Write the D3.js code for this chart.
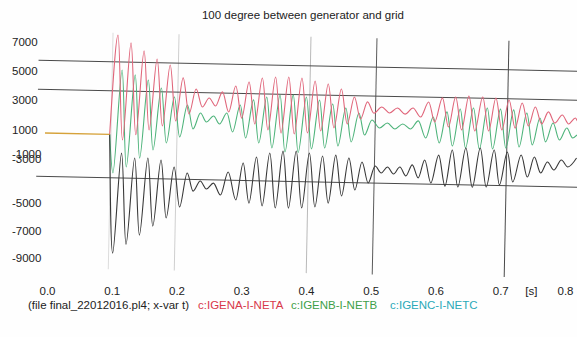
<!DOCTYPE html>
<html><head><meta charset="utf-8">
<script src="https://cdn.jsdelivr.net/npm/d3@7"></script>
<style>
html,body{margin:0;padding:0;background:#fff;}
svg{display:block;font-family:"Liberation Sans",Arial,sans-serif;}
</style></head><body>
<svg id="chart" width="577" height="337"></svg>
<script>
// ---------------- DATA ----------------
const chartTitle = "100 degree between generator and grid";
const fileLabel = "(file final_22012016.pl4; x-var t)";
const seriesNames = ["c:IGENA-I-NETA", "c:IGENB-I-NETB", "c:IGENC-I-NETC"];
const xTicks = [0.0, 0.1, 0.2, 0.3, 0.4, 0.5, 0.6, 0.7, 0.8];
const xUnit = "[s]";
const yTicks = [7000, 5000, 3000, 1000, -1000, -3000, -5000, -7000, -9000];
const hGridValues = [5000, 3000, -3000];
const vGridTimes = [0.1, 0.2, 0.4, 0.5, 0.7];

// pre-switching (all three currents at zero, overlapping)
const preFault = [[0, 0], [0.098, 0]];

// phase A (extrema) [time s, value]
const seriesA = [
  [0.098, 0],
  [0.1076, 6860], [0.1176, -370], [0.1276, 6330], [0.1376, 0], [0.1476, 5800], [0.1576, 350],
  [0.1676, 5260], [0.1776, 650], [0.1876, 4860], [0.1976, 1010], [0.2076, 3990], [0.2176, 1510],
  [0.2276, 3240], [0.2376, 2010], [0.2476, 2640], [0.2576, 2100], [0.2676, 3080], [0.2776, 1700],
  [0.2876, 3500], [0.2976, 1300], [0.3076, 3800], [0.3176, 910], [0.3276, 4090], [0.3376, 520],
  [0.3476, 4180], [0.3576, 320], [0.3676, 4200], [0.3776, 280], [0.3876, 4150], [0.3976, 360],
  [0.4076, 3960], [0.4176, 520], [0.4276, 3770], [0.4376, 750], [0.4476, 3440], [0.4576, 1040],
  [0.4676, 2910], [0.4776, 1400], [0.4876, 2590], [0.4976, 1820],
  [0.5094, 2260], [0.5212, 1860], [0.5331, 2210], [0.5449, 1800], [0.5567, 2230], [0.5685, 1620],
  [0.5803, 2670], [0.590, 1300], [0.601, 2970], [0.611, 970], [0.621, 3050], [0.631, 790],
  [0.641, 3140], [0.651, 730], [0.662, 3090], [0.672, 750], [0.682, 3040], [0.692, 840],
  [0.702, 2920], [0.712, 990], [0.722, 2730], [0.732, 1150], [0.742, 2470], [0.752, 1310],
  [0.762, 2150], [0.772, 1390], [0.783, 1960], [0.793, 1350], [0.803, 1770], [0.806, 1570]
];

// phase B
const seriesB = [
  [0.098, 0],
  [0.1041, -2660], [0.1149, 4450], [0.1241, -2230], [0.1349, 4130], [0.1441, -1600], [0.1549, 3800],
  [0.1641, -1020], [0.1749, 3260], [0.1841, -520], [0.1949, 2660], [0.2041, -90], [0.2149, 2130],
  [0.2241, 480], [0.2349, 1590], [0.2441, 980], [0.2549, 1410], [0.2641, 860], [0.2749, 1630],
  [0.2841, 330], [0.2949, 2200], [0.3041, -70], [0.3149, 2570], [0.3241, -390], [0.3349, 2790],
  [0.3441, -720], [0.3549, 2950], [0.3641, -980], [0.3749, 2970], [0.3841, -990], [0.3949, 2840],
  [0.4041, -730], [0.4149, 2660], [0.4241, -650], [0.4349, 2400], [0.4441, -490], [0.4549, 2140],
  [0.4641, -190], [0.4749, 1810], [0.4841, 300], [0.4949, 1350],
  [0.5066, 810], [0.5183, 1160], [0.530, 760], [0.5417, 1120], [0.5534, 780], [0.5651, 1350],
  [0.5768, 180], [0.5876, 1640], [0.5975, -140], [0.6083, 2010], [0.6175, -330], [0.6283, 2230],
  [0.6375, -450], [0.6483, 2320], [0.6585, -500], [0.6693, 2340], [0.6785, -480], [0.6893, 2280],
  [0.6985, -400], [0.7093, 2240], [0.7185, -310], [0.7293, 2050], [0.7385, -150], [0.7493, 1720],
  [0.7585, 80], [0.7693, 1390], [0.7795, 230], [0.7903, 1070], [0.7995, 390], [0.806, 600]
];

// phase C
const seriesC = [
  [0.098, 0],
  [0.1061, -8190], [0.1166, -1280], [0.1261, -7570], [0.1366, -1600], [0.1461, -6910], [0.1566, -1580],
  [0.1661, -6270], [0.1766, -1700], [0.1861, -5690], [0.1966, -2170], [0.2061, -4920], [0.2166, -2560],
  [0.2261, -3800], [0.2366, -3100], [0.2461, -3640], [0.2566, -3220], [0.2676, -4030], [0.2786, -2440],
  [0.2911, -4350], [0.3011, -1790], [0.3111, -4550], [0.3211, -1360], [0.3311, -4730], [0.3411, -1070],
  [0.3511, -4850], [0.3611, -920], [0.3711, -4840], [0.3811, -890], [0.3911, -4810], [0.4011, -1010],
  [0.4111, -4730], [0.4211, -1200], [0.4311, -4440], [0.4411, -1120], [0.4511, -3930], [0.4611, -1300],
  [0.4711, -3500], [0.4811, -1560], [0.4911, -3000], [0.5011, -1820],
  [0.5105, -2290], [0.5198, -1870], [0.5292, -2340], [0.5386, -1850], [0.5479, -2460], [0.5573, -1690],
  [0.5667, -2580], [0.576, -1340], [0.586, -2910], [0.597, -980], [0.6075, -3110], [0.6175, -610],
  [0.627, -3150], [0.638, -450], [0.649, -3150], [0.6598, -430], [0.670, -3110], [0.681, -550],
  [0.690, -2950], [0.701, -670], [0.710, -2730], [0.722, -860], [0.732, -2370], [0.742, -980],
  [0.752, -2070], [0.762, -1300], [0.772, -1850], [0.783, -1150], [0.793, -1620], [0.806, -990]
];

// ---------------- LAYOUT ----------------
const svg = d3.select("#chart");
svg.append("rect").attr("width", 577).attr("height", 337).attr("fill", "#fefefe");

const x = d3.scaleLinear().domain([0, 0.8]).range([45, 573]);
const zeroY = 133, pxPerUnit = 0.0145;
const y = d3.scaleLinear().domain([-9300, 7000])
  .range([zeroY + 9300 * pxPerUnit, zeroY - 7000 * pxPerUnit]);

// the printed axis labels sit where the plotting program put them
const yLabelPos = [42, 71, 100, 130, 154, 159, 203, 231, 258];
const yAxisScale = d3.scaleLinear().domain(yTicks).range(yLabelPos);
const xAxisScale = d3.scaleLinear().domain([0, 0.8]).range([47, 565]);

// plot area, slightly tilted as in the photographed print
const plot = svg.append("g").attr("transform", "rotate(1.15 45 133)");

const vStyle = {0.1: "#dcdcdc", 0.2: "#cfcfcf", 0.4: "#b9b9b9", 0.5: "#5a5a5a", 0.7: "#4a4a4a"};
plot.selectAll("line.vg").data(vGridTimes).join("line")
  .attr("class", "vg")
  .attr("x1", d => x(d)).attr("x2", d => x(d))
  .attr("y1", y(7000)).attr("y2", y(-9300))
  .attr("stroke", d => vStyle[d]).attr("stroke-width", 1);

plot.selectAll("line.hg").data(hGridValues).join("line")
  .attr("class", "hg")
  .attr("x1", x(-0.012)).attr("x2", x(0.82))
  .attr("y1", d => y(d)).attr("y2", d => y(d))
  .attr("stroke", "#4a4a4a").attr("stroke-width", 1);

const line = d3.line().x(d => x(d[0])).y(d => y(d[1])).curve(d3.curveMonotoneX);
const traces = [
  {data: seriesB, color: "#4db37a"},
  {data: seriesA, color: "#e0657a"},
  {data: seriesC, color: "#383838"}
];
plot.selectAll("path.tr").data(traces).join("path")
  .attr("class", "tr")
  .attr("d", d => line(d.data))
  .attr("fill", "none")
  .attr("stroke", d => d.color)
  .attr("stroke-width", 1.1)
  .attr("stroke-linejoin", "round");

plot.append("path").attr("d", d3.line().x(d => x(d[0])).y(d => y(d[1]))(preFault))
  .attr("fill", "none").attr("stroke", "#d6a23a").attr("stroke-width", 1.3);

// title
svg.append("text").attr("x", 303).attr("y", 19).attr("text-anchor", "middle")
  .attr("font-size", 11.5).attr("fill", "#222").text(chartTitle);

// y axis labels
const yAx = svg.append("g").attr("transform", "translate(12,0)")
  .call(d3.axisLeft(yAxisScale).tickValues(yTicks).tickSize(0).tickFormat(d => String(d)));
yAx.select(".domain").remove();
yAx.selectAll("text").attr("text-anchor", "start").attr("x", 0)
  .attr("font-size", 11.5).attr("fill", "#222").attr("font-family", "Liberation Sans, Arial, sans-serif");

// x axis labels
const xAx = svg.append("g").attr("transform", "translate(0,284)")
  .call(d3.axisBottom(xAxisScale).tickValues(xTicks).tickSize(0).tickFormat(d => d.toFixed(1)));
xAx.select(".domain").remove();
xAx.selectAll("text").attr("font-size", 11.5).attr("fill", "#222")
  .attr("font-family", "Liberation Sans, Arial, sans-serif");
svg.append("text").attr("x", xAxisScale(0.748)).attr("y", 295).attr("text-anchor", "middle")
  .attr("font-size", 11.5).attr("fill", "#222").text(xUnit);

// legend row
const legendColors = ["#d8384a", "#3fa048", "#2aa9b8"];
svg.append("text").attr("x", 28).attr("y", 309).attr("font-size", 11.5)
  .attr("fill", "#222").text(fileLabel);
const legX = [198, 291, 390];
svg.selectAll("text.leg").data(seriesNames).join("text")
  .attr("class", "leg")
  .attr("x", (d, i) => legX[i]).attr("y", 309)
  .attr("font-size", 11.5).attr("fill", (d, i) => legendColors[i]).text(d => d);
</script>
</body></html>
